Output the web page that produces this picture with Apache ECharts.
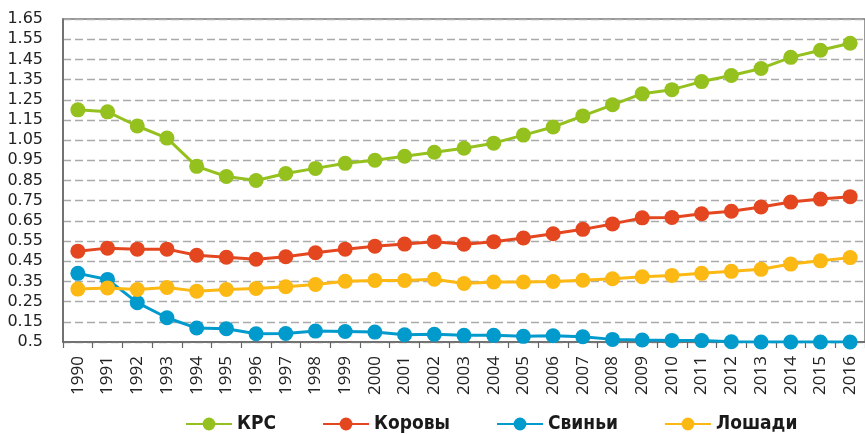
<!DOCTYPE html>
<html>
<head>
<meta charset="utf-8">
<script src="https://cdn.jsdelivr.net/npm/echarts@6/dist/echarts.min.js"></script>
<style>
  html, body { margin: 0; padding: 0; background: #fff; }
  #chart { width: 865px; height: 434px; }
</style>
</head>
<body>
<div id="chart"></div>
<script>
var years = ['1990','1991','1992','1993','1994','1995','1996','1997','1998','1999','2000',
    '2001','2002','2003','2004','2005','2006','2007','2008','2009','2010',
    '2011','2012','2013','2014','2015','2016'];

var krs = [1.20, 1.19, 1.12, 1.06, 0.92, 0.87, 0.85, 0.885, 0.91, 0.935, 0.95,
    0.97, 0.99, 1.01, 1.035, 1.075, 1.115, 1.17, 1.225, 1.28, 1.30,
    1.34, 1.37, 1.405, 1.46, 1.495, 1.53];
var korovy = [0.50, 0.515, 0.51, 0.51, 0.48, 0.47, 0.46, 0.472, 0.492, 0.51, 0.524,
    0.535, 0.547, 0.534, 0.547, 0.565, 0.586, 0.608, 0.635, 0.665, 0.667,
    0.685, 0.698, 0.719, 0.743, 0.758, 0.77];
var svini = [0.39, 0.36, 0.245, 0.17, 0.119, 0.116, 0.091, 0.092, 0.104, 0.102, 0.099,
    0.086, 0.088, 0.083, 0.083, 0.078, 0.081, 0.076, 0.063, 0.06, 0.058,
    0.057, 0.051, 0.05, 0.05, 0.05, 0.05];
var loshadi = [0.312, 0.318, 0.31, 0.32, 0.302, 0.31, 0.315, 0.324, 0.335, 0.351, 0.355,
    0.355, 0.361, 0.34, 0.347, 0.347, 0.35, 0.356, 0.363, 0.373, 0.38,
    0.39, 0.40, 0.41, 0.436, 0.452, 0.468];

// подписи оси Y снизу вверх (нижняя подпись в оригинале "0.5")
var yTicks = ['0.5','0.15','0.25','0.35','0.45','0.55','0.65','0.75','0.85',
    '0.95','1.05','1.15','1.25','1.35','1.45','1.55','1.65'];

var colors = ['#95c11f', '#e4471f', '#009acd', '#fcb813'];
var names = ['КРС', 'Коровы', 'Свиньи', 'Лошади'];
var values = [krs, korovy, svini, loshadi];

var chart = echarts.init(document.getElementById('chart'));

var series = [];
for (var i = 0; i < names.length; i++) {
    series.push({
        name: names[i],
        type: 'line',
        data: values[i],
        symbol: 'circle',
        symbolSize: 15,
        lineStyle: { width: 3 },
        itemStyle: { color: colors[i] },
        emphasis: { disabled: true }
    });
}

chart.setOption({
    animation: false,
    color: colors,
    grid: {
        left: 63,
        right: -7,
        top: 19,
        bottom: 92,
        show: true,
        borderColor: '#777',
        borderWidth: 1.5,
        backgroundColor: 'transparent'
    },
    legend: {
        left: 185,
        top: 414,
        padding: 0,
        itemWidth: 46,
        itemHeight: 16,
        itemGap: 46,
        textStyle: {
            fontFamily: 'DejaVu Sans Condensed',
            fontWeight: 'bold',
            fontSize: 19,
            lineHeight: 20,
            color: '#1a1a1a'
        },
        data: names
    },
    xAxis: {
        type: 'category',
        data: years,
        boundaryGap: true,
        axisLine: { lineStyle: { color: '#666', width: 1.5 } },
        axisTick: { show: true, length: 6, lineStyle: { color: '#666', width: 1.2 } },
        axisLabel: {
            rotate: 90,
            interval: 0,
            margin: 14,
            fontFamily: 'Open Sans',
            fontSize: 17,
            color: '#222'
        },
        splitLine: { show: false }
    },
    yAxis: {
        type: 'value',
        min: 0.05,
        max: 1.65,
        interval: 0.1,
        axisLine: { show: true, lineStyle: { color: '#666', width: 1.5 } },
        axisTick: { show: false },
        axisLabel: {
            margin: 20,
            fontFamily: 'DejaVu Sans',
            fontSize: 16,
            color: '#222',
            formatter: function (v) {
                return yTicks[Math.round((v - 0.05) / 0.1)];
            }
        },
        splitLine: {
            show: true,
            lineStyle: { color: '#aaa', width: 1.3, type: [8, 4] }
        }
    },
    series: series
});
</script>
</body>
</html>
